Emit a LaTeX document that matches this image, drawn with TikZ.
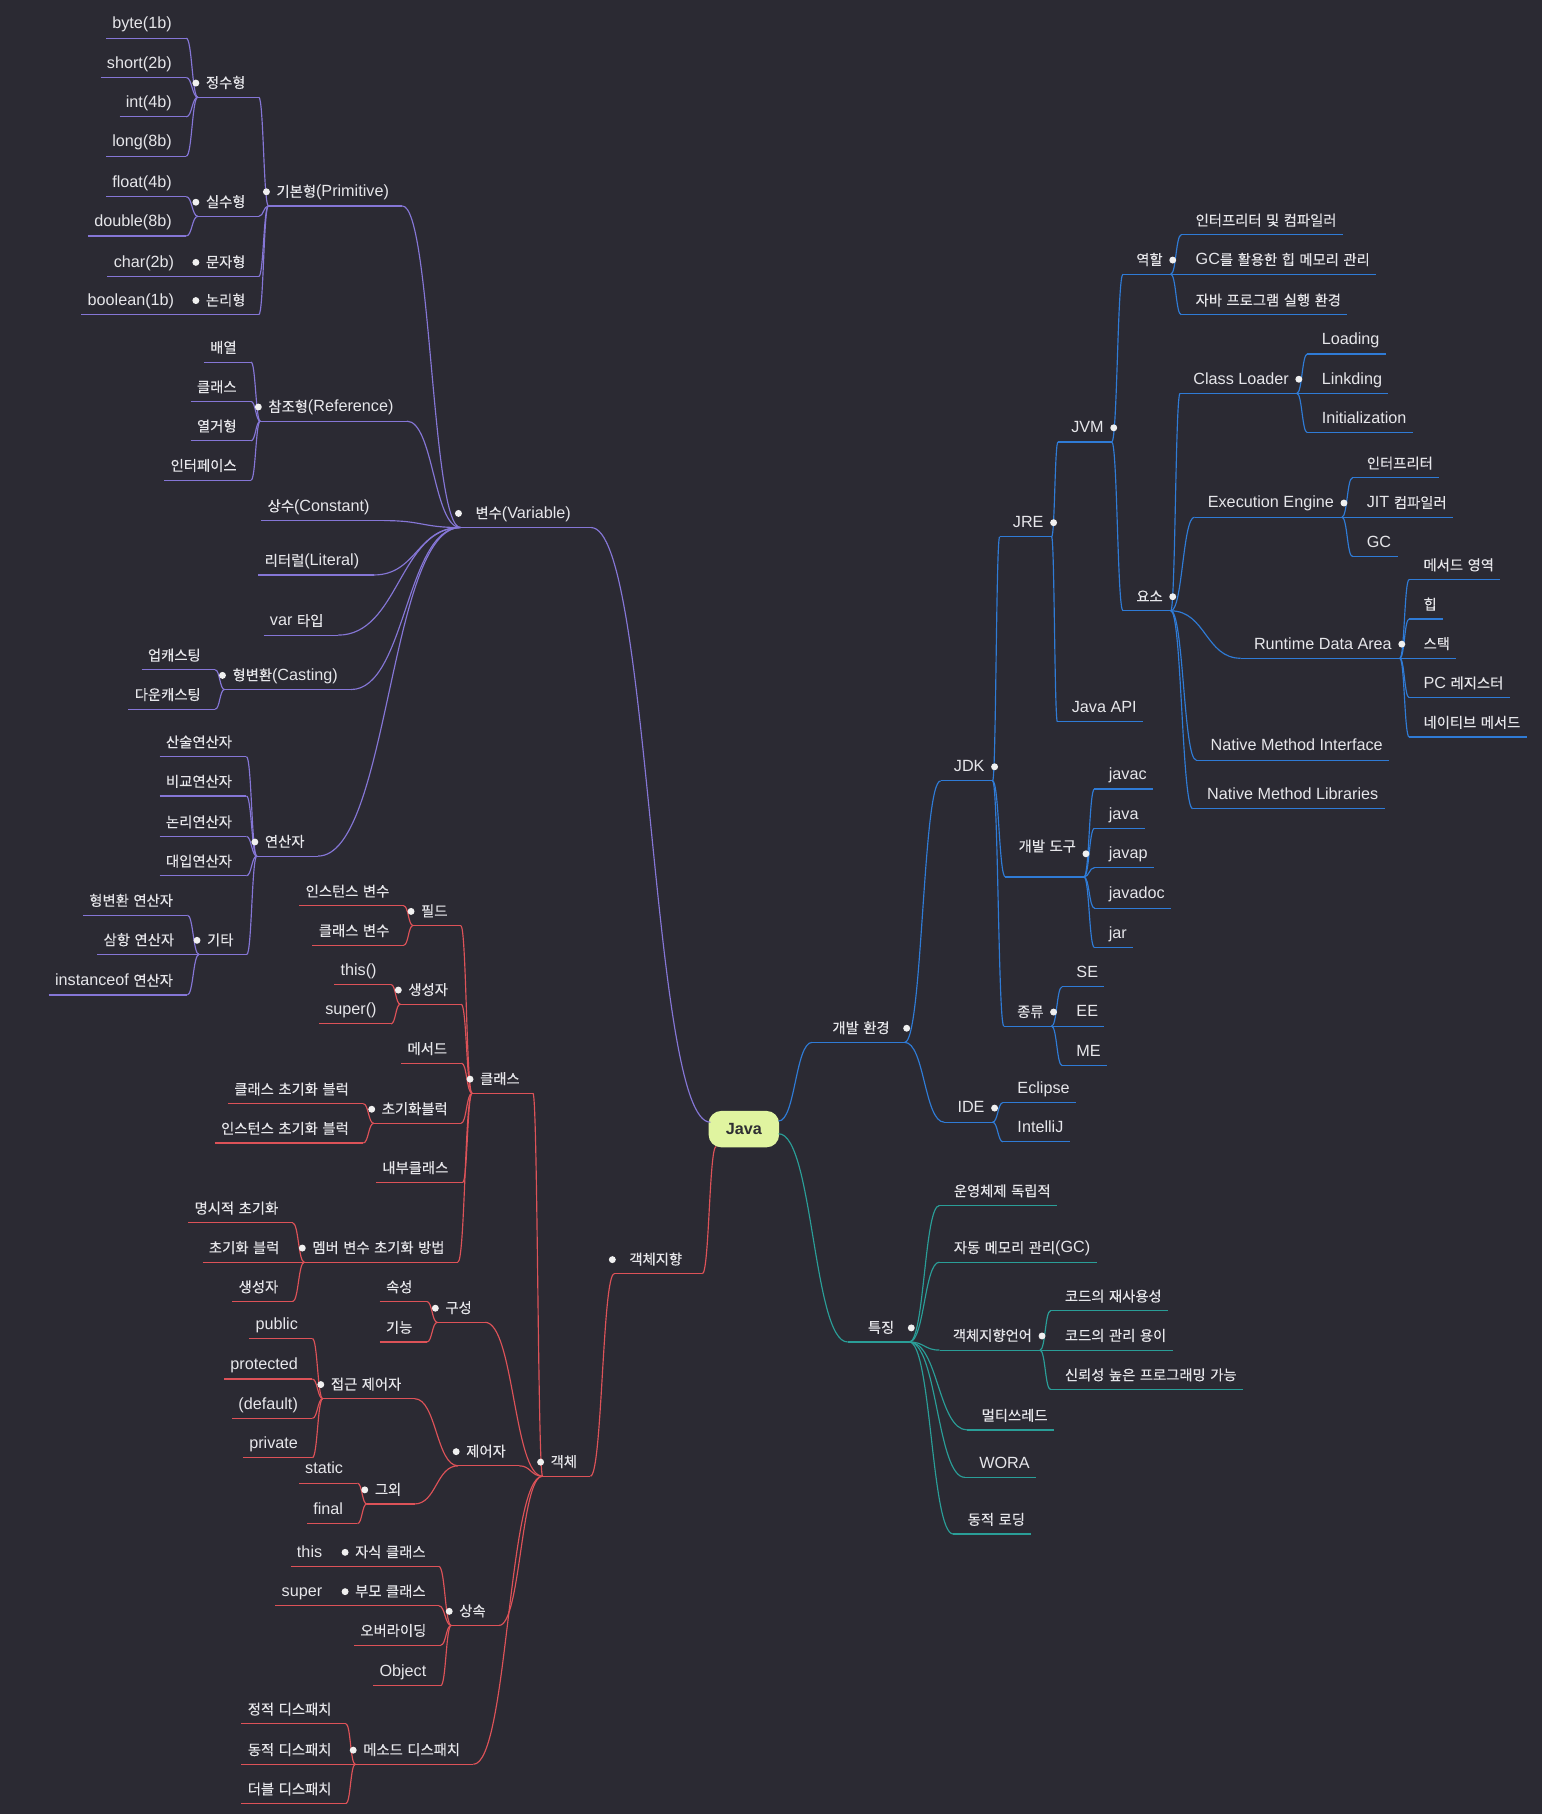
\documentclass[tikz,border=0pt]{standalone}
\usepackage{fontspec}
\usetikzlibrary{calc}
\setmainfont{Liberation Sans}
\newfontfamily\krfont{Noto Sans CJK KR}[Scale=0.885, FakeBold=0.3]
\definecolor{bg}{HTML}{2B2A33}
\definecolor{vp}{HTML}{8576D6}
\definecolor{ob}{HTML}{DD5258}
\definecolor{dv}{HTML}{2F7BD6}
\definecolor{ft}{HTML}{2A9E98}
\definecolor{txt}{HTML}{E6E6EA}
\definecolor{dotc}{HTML}{F0F0F0}
\definecolor{javafill}{HTML}{E0F4A0}
\definecolor{javatxt}{HTML}{2E2E33}

\XeTeXinterchartokenstate=1
\newXeTeXintercharclass\krcls
\newcount\hc
\hc="AC00
\loop\XeTeXcharclass\hc=\krcls\ifnum\hc<"D7A3 \advance\hc by 1 \repeat
\XeTeXinterchartoks 0 \krcls={\krfont}
\XeTeXinterchartoks 4095 \krcls={\krfont}
\XeTeXinterchartoks \krcls 0={\rmfamily}
\XeTeXinterchartoks \krcls 4095={\rmfamily}

\begin{document}
\begin{tikzpicture}[x=1pt, y=-1pt, line width=1pt,
	nd/.style={text=txt, font=\fontsize{14}{16}\selectfont, inner xsep=5pt, inner ysep=4.5pt, text height=10pt, text depth=3pt},
	lf/.style={nd, anchor=south east, execute at end node=\hspace*{7pt}},
	rf/.style={nd, anchor=south west, execute at begin node=\hspace*{7pt}},
	lp/.style={nd, anchor=south west, execute at begin node=\hspace*{1.5pt}, execute at end node=\hspace*{6pt}},
	rp/.style={nd, anchor=south east, execute at begin node=\hspace*{6pt}, execute at end node=\hspace*{1.5pt}},
	lvl1/.style={inner xsep=11pt},
	branch/.style={to path={.. controls ($(\tikztostart)!.5!(\tikztostart-|\tikztotarget)$) and ($(\tikztotarget)!.5!(\tikztotarget-|\tikztostart)$) .. (\tikztotarget)}},
	root/.style={fill=javafill, rounded corners=11pt, minimum width=61pt, minimum height=31.5pt, text=javatxt, font=\fontsize{14}{16}\selectfont\bfseries}]

	\useasboundingbox (0,0) rectangle (1333,1568);
	\fill[bg] (0,0) rectangle (1333,1568);

	\node[root] (java) at (643,976) {Java};
	\coordinate (jv) at ([shift={(-29,-6)}]java.center);
	\coordinate (jo) at ([shift={(-24,15)}]java.center);
	\coordinate (jd) at ([shift={(30,-7)}]java.center);
	\coordinate (jf) at ([shift={(30,4)}]java.center);

	\node[lp,lvl1] (var) at (398,456) {변수(Variable)};
	\node[lp] (prim) at (232,178) {기본형(Primitive)};
	\node[lp] (jeongsu) at (171,84) {정수형};
	\node[lf] (byte) at (161,33) {byte(1b)};
	\node[lf] (short) at (161,67) {short(2b)};
	\node[lf] (int) at (161,101) {int(4b)};
	\node[lf] (long) at (161,135) {long(8b)};
	\node[lp] (silsu) at (171,187) {실수형};
	\node[lf] (float) at (161,170) {float(4b)};
	\node[lf] (double) at (161,204) {double(8b)};
	\node[lp] (munja) at (171,239) {문자형};
	\node[lf] (char) at (163,239) {char(2b)};
	\node[lp] (nonri) at (171,272) {논리형};
	\node[lf] (bool) at (163,272) {boolean(1b)};
	\node[lp] (ref) at (225,364) {참조형(Reference)};
	\node[lf] (arr) at (217,313) {배열};
	\node[lf] (cls) at (217,347) {클래스};
	\node[lf] (enum) at (217,381) {열거형};
	\node[lf] (iface) at (217,415) {인터페이스};
	\node[lf] (const) at (332,450) {상수(Constant)};
	\node[lf] (lit) at (323,497) {리터럴(Literal)};
	\node[lf] (vart) at (292,549) {var 타입};
	\node[lp] (cast) at (194,596) {형변환(Casting)};
	\node[lf] (up) at (186,579) {업캐스팅};
	\node[lf] (down) at (186,613) {다운캐스팅};
	\node[lp] (oper) at (222,740) {연산자};
	\node[lf] (arith) at (213,654) {산술연산자};
	\node[lf] (cmpop) at (213,688) {비교연산자};
	\node[lf] (logop) at (213,723) {논리연산자};
	\node[lf] (asgop) at (213,757) {대입연산자};
	\node[lp] (etc) at (172,825) {기타};
	\node[lf] (castop) at (162,791) {형변환 연산자};
	\node[lf] (tern) at (163,825) {삼항 연산자};
	\node[lf] (inst) at (162,860) {instanceof 연산자};

	\node[lp,lvl1] (oop) at (531,1101) {객체지향};
	\node[lp] (obj) at (469,1276) {객체};
	\node[lp] (clsn) at (408,945) {클래스};
	\node[lp] (field) at (357,800) {필드};
	\node[lf] (ivar) at (349,783) {인스턴스 변수};
	\node[lf] (cvar) at (349,817) {클래스 변수};
	\node[lp] (ctor) at (346,868) {생성자};
	\node[lf] (thisc) at (338,851) {this()};
	\node[lf] (superc) at (338,885) {super()};
	\node[lf] (meth) at (399,919) {메서드};
	\node[lp] (initb) at (323,971) {초기화블럭};
	\node[lf] (cinit) at (314,954) {클래스 초기화 블럭};
	\node[lf] (iinit) at (314,988) {인스턴스 초기화 블럭};
	\node[lf] (inner) at (400,1022) {내부클래스};
	\node[lp] (minit) at (263,1091) {멤버 변수 초기화 방법};
	\node[lf] (expl) at (253,1057) {명시적 초기화};
	\node[lf] (blk) at (254,1091) {초기화 블럭};
	\node[lf] (mctor) at (253,1125) {생성자};
	\node[lp] (struct) at (378,1143) {구성};
	\node[lf] (attr) at (369,1125) {속성};
	\node[lf] (func) at (369,1160) {기능};
	\node[lp] (modif) at (396,1267) {제어자};
	\node[lp] (acc) at (279,1209) {접근 제어자};
	\node[lf] (pub) at (270,1157) {public};
	\node[lf] (prot) at (270,1192) {protected};
	\node[lf] (dflt) at (270,1226) {(default)};
	\node[lf] (priv) at (270,1260) {private};
	\node[lp] (other) at (317,1300) {그외};
	\node[lf] (stat) at (309,1282) {static};
	\node[lf] (fin) at (309,1317) {final};
	\node[lp] (inh) at (390,1405) {상속};
	\node[lp] (childc) at (300,1354) {자식 클래스};
	\node[lf] (thisk) at (291,1354) {this};
	\node[lp] (parentc) at (300,1388) {부모 클래스};
	\node[lf] (superk) at (291,1388) {super};
	\node[lf] (over) at (381,1422) {오버라이딩};
	\node[lf] (objc) at (381,1457) {Object};
	\node[lp] (disp) at (307,1525) {메소드 디스패치};
	\node[lf] (sdisp) at (299,1490) {정적 디스패치};
	\node[lf] (ddisp) at (299,1525) {동적 디스패치};
	\node[lf] (dbdisp) at (299,1559) {더블 디스패치};

	\node[rp,lvl1] (dev) at (782,901) {개발 환경};
	\node[rp] (jdk) at (858,675) {JDK};
	\node[rp] (jre) at (909,464) {JRE};
	\node[rp] (jvm) at (961,382) {JVM};
	\node[rp] (role) at (1012,237) {역할};
	\node[rf] (r1) at (1021,203) {인터프리터 및 컴파일러};
	\node[rf] (r2) at (1021,237) {GC를 활용한 힙 메모리 관리};
	\node[rf] (r3) at (1021,272) {자바 프로그램 실행 환경};
	\node[rp] (elem) at (1012,528) {요소};
	\node[rp] (cl) at (1121,340) {Class Loader};
	\node[rf] (load) at (1130,306) {Loading};
	\node[rf] (lnk) at (1130,340) {Linkding};
	\node[rf] (initz) at (1130,374) {Initialization};
	\node[rp] (exe) at (1160,447) {Execution Engine};
	\node[rf] (interp) at (1169,413) {인터프리터};
	\node[rf] (jit) at (1169,447) {JIT 컴파일러};
	\node[rf] (gc) at (1169,481) {GC};
	\node[rp] (rda) at (1210,569) {Runtime Data Area};
	\node[rf] (marea) at (1218,501) {메서드 영역};
	\node[rf] (heap) at (1218,535) {힙};
	\node[rf] (stack) at (1218,569) {스택};
	\node[rf] (pcreg) at (1218,603) {PC 레지스터};
	\node[rf] (nmeth) at (1218,637) {네이티브 메서드};
	\node[rf] (nmi) at (1034,657) {Native Method Interface};
	\node[rf] (nml) at (1031,699) {Native Method Libraries};
	\node[rf] (api) at (914,624) {Java API};
	\node[rp,text depth=17pt] (tool) at (937,758) {개발 도구};
	\node[rf] (javac) at (946,682) {javac};
	\node[rf] (javacmd) at (946,716) {java};
	\node[rf] (javap) at (946,750) {javap};
	\node[rf] (javadoc) at (946,785) {javadoc};
	\node[rf] (jar) at (946,819) {jar};
	\node[rp] (kind) at (909,887) {종류};
	\node[rf] (se) at (918,853) {SE};
	\node[rf] (eeed) at (918,887) {EE};
	\node[rf] (me) at (918,921) {ME};
	\node[rp] (ide) at (858,970) {IDE};
	\node[rf] (ecl) at (867,953) {Eclipse};
	\node[rf] (ij) at (867,987) {IntelliJ};

	\node[rp,lvl1] (feat) at (786,1160) {특징};
	\node[rf] (os) at (812,1042) {운영체제 독립적};
	\node[rf] (gcm) at (812,1091) {자동 메모리 관리(GC)};
	\node[rp] (oopl) at (899,1167) {객체지향언어};
	\node[rf] (reuse) at (908,1133) {코드의 재사용성};
	\node[rf] (mng) at (908,1167) {코드의 관리 용이};
	\node[rf] (rel) at (908,1201) {신뢰성 높은 프로그래밍 가능};
	\node[rf] (mt) at (836,1236) {멀티쓰레드};
	\node[rf] (wora) at (834,1277) {WORA};
	\node[rf] (dl) at (824,1326) {동적 로딩};

	\draw[vp] (jv) to[branch] (var.south east);
	\draw[ob] (jo) to[branch] (oop.south east);
	\draw[dv] (jd) to[branch] (dev.south west);
	\draw[ft] (jf) to[branch] (feat.south west);

	\foreach \n in {var,prim,jeongsu,byte,short,int,long,silsu,float,double,munja,char,nonri,bool,ref,arr,cls,enum,iface,const,lit,vart,cast,up,down,oper,arith,cmpop,logop,asgop,etc,castop,tern,inst}
		\draw[vp] (\n.south west) -- (\n.south east);
	\foreach \n in {oop,obj,clsn,field,ivar,cvar,ctor,thisc,superc,meth,initb,cinit,iinit,inner,minit,expl,blk,mctor,struct,attr,func,modif,acc,pub,prot,dflt,priv,other,stat,fin,inh,childc,thisk,parentc,superk,over,objc,disp,sdisp,ddisp,dbdisp}
		\draw[ob] (\n.south west) -- (\n.south east);
	\foreach \n in {dev,jdk,jre,jvm,role,r1,r2,r3,elem,cl,load,lnk,initz,exe,interp,jit,gc,rda,marea,heap,stack,pcreg,nmeth,nmi,nml,api,tool,javac,javacmd,javap,javadoc,jar,kind,se,eeed,me,ide,ecl,ij}
		\draw[dv] (\n.south west) -- (\n.south east);
	\foreach \n in {feat,os,gcm,oopl,reuse,mng,rel,mt,wora,dl}
		\draw[ft] (\n.south west) -- (\n.south east);

	\foreach \p/\c in {var/prim,var/ref,var/const,var/lit,var/vart,var/cast,var/oper,prim/jeongsu,prim/silsu,prim/munja,prim/nonri,jeongsu/byte,jeongsu/short,jeongsu/int,jeongsu/long,silsu/float,silsu/double,munja/char,nonri/bool,ref/arr,ref/cls,ref/enum,ref/iface,cast/up,cast/down,oper/arith,oper/cmpop,oper/logop,oper/asgop,oper/etc,etc/castop,etc/tern,etc/inst}
		\draw[vp] (\p.south west) to[branch] (\c.south east);
	\foreach \p/\c in {oop/obj,obj/clsn,obj/struct,obj/modif,obj/inh,obj/disp,clsn/field,clsn/ctor,clsn/meth,clsn/initb,clsn/inner,clsn/minit,field/ivar,field/cvar,ctor/thisc,ctor/superc,initb/cinit,initb/iinit,minit/expl,minit/blk,minit/mctor,struct/attr,struct/func,modif/acc,modif/other,acc/pub,acc/prot,acc/dflt,acc/priv,other/stat,other/fin,inh/childc,inh/parentc,inh/over,inh/objc,childc/thisk,parentc/superk,disp/sdisp,disp/ddisp,disp/dbdisp}
		\draw[ob] (\p.south west) to[branch] (\c.south east);
	\foreach \p/\c in {dev/jdk,dev/ide,jdk/jre,jdk/tool,jdk/kind,jre/jvm,jre/api,jvm/role,jvm/elem,role/r1,role/r2,role/r3,elem/cl,elem/exe,elem/rda,elem/nmi,elem/nml,cl/load,cl/lnk,cl/initz,exe/interp,exe/jit,exe/gc,rda/marea,rda/heap,rda/stack,rda/pcreg,rda/nmeth,tool/javac,tool/javacmd,tool/javap,tool/javadoc,tool/jar,kind/se,kind/eeed,kind/me,ide/ecl,ide/ij}
		\draw[dv] (\p.south east) to[branch] (\c.south west);
	\foreach \p/\c in {feat/os,feat/gcm,feat/oopl,feat/mt,feat/wora,feat/dl,oopl/reuse,oopl/mng,oopl/rel}
		\draw[ft] (\p.south east) to[branch] (\c.south west);

	\foreach \n in {var,prim,jeongsu,silsu,munja,nonri,ref,cast,oper,etc,oop,obj,clsn,field,ctor,initb,minit,struct,modif,acc,other,inh,childc,parentc,disp}
		\fill[dotc] ([shift={(-1.7,-12.2)}]\n.south west) circle (3pt);
	\foreach \n in {dev,jdk,jre,jvm,role,elem,cl,exe,rda,kind,ide,feat,oopl}
		\fill[dotc] ([shift={(1.7,-12.2)}]\n.south east) circle (3pt);
	\fill[dotc] ([shift={(1.7,-20)}]tool.south east) circle (3pt);

\end{tikzpicture}
\end{document}
